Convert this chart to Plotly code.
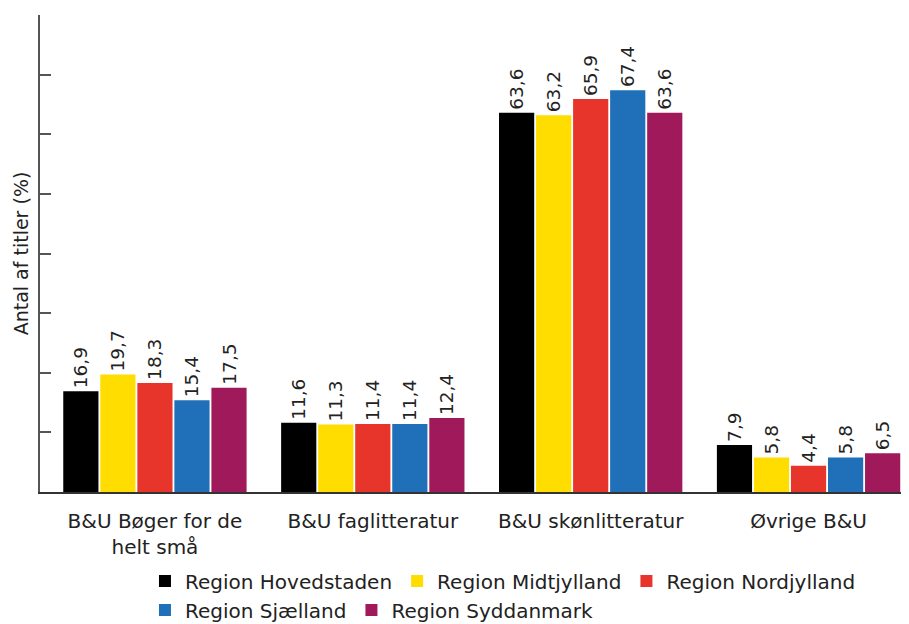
import plotly.graph_objects as go

categories = ["B&U Bøger for de<br>helt små", "B&U faglitteratur", "B&U skønlitteratur", "Øvrige B&U"]
regions = ["Region Hovedstaden", "Region Midtjylland", "Region Nordjylland", "Region Sjælland", "Region Syddanmark"]
hovedstaden = [16.9, 11.6, 63.6, 7.9]
midtjylland = [19.7, 11.3, 63.2, 5.8]
nordjylland = [18.3, 11.4, 65.9, 4.4]
sjaelland = [15.4, 11.4, 67.4, 5.8]
syddanmark = [17.5, 12.4, 63.6, 6.5]
series = [hovedstaden, midtjylland, nordjylland, sjaelland, syddanmark]
colors = ["#000000", "#FFDD00", "#E8352B", "#1F70B8", "#A0195A"]
legend_ids = ["legend", "legend", "legend", "legend2", "legend2"]
y_title = "Antal af titler (%)"

FONT = "DejaVu Sans"
TXT = "#222222"

fig = go.Figure()
for name, vals, col, lg in zip(regions, series, colors, legend_ids):
    fig.add_trace(go.Bar(
        x=categories, y=vals, name=name,
        marker=dict(color=col, line=dict(width=0)),
        text=[f"{v:.1f}".replace(".", ",") for v in vals],
        textposition="outside", textangle=-90, constraintext="none",
        textfont=dict(family=FONT, size=18.5, color=TXT),
        cliponaxis=False, legend=lg,
    ))

# page body has an 8px margin, so the figure is sized 901x616
fig.update_layout(
    width=901, height=616,
    margin=dict(l=32, r=0, t=7, b=132, autoexpand=False),
    paper_bgcolor="white", plot_bgcolor="white",
    barmode="group", bargap=0.15, bargroupgap=0.05,
    font=dict(family=FONT, size=19, color=TXT),
    legend=dict(orientation="h", x=0.1208, xanchor="left", y=-0.1866, yanchor="middle",
                font=dict(family=FONT, size=20, color=TXT), bgcolor="rgba(0,0,0,0)",
                itemclick=False, traceorder="normal"),
    legend2=dict(orientation="h", x=0.1208, xanchor="left", y=-0.2474, yanchor="middle",
                 font=dict(family=FONT, size=20, color=TXT), bgcolor="rgba(0,0,0,0)",
                 itemclick=False, traceorder="normal"),
    showlegend=True,
)
fig.update_xaxes(
    range=[-0.5275, 3.461], showline=True, linecolor="#333333", linewidth=1.5,
    ticks="", showgrid=False, zeroline=False, automargin=False, ticklabelstandoff=10,
    tickfont=dict(family=FONT, size=20, color=TXT),
)
fig.update_yaxes(
    range=[0, 80], dtick=10, showline=True, linecolor="#555555", linewidth=1.5,
    ticks="inside", ticklen=11, tickcolor="#555555", tickwidth=1.5,
    showticklabels=False, showgrid=False, zeroline=False, automargin=False,
    title=dict(text=y_title, font=dict(family=FONT, size=19, color=TXT), standoff=5),
)

fig.write_html("out.html")
